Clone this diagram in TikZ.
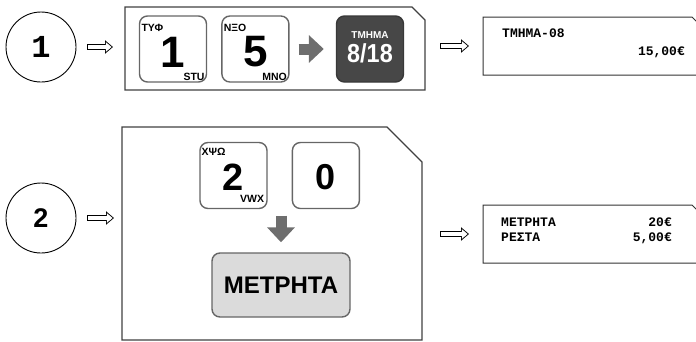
\documentclass[tikz,border=0pt]{standalone}
\usepackage{fontspec}
\setmainfont{Liberation Sans}
\newfontfamily\lcdfont{Liberation Mono}
\usetikzlibrary{positioning,arrows.meta}
\tikzstyle{keybox}    = [draw=black!60, line width=1.4pt, rounded corners=8pt, minimum width=67pt, minimum height=66pt, inner sep=0pt, font=\bfseries]
\tikzstyle{frameline} = [draw=black!75, line width=1.1pt, line join=miter]

\begin{document}
\begin{tikzpicture}[x=1pt,y=-1pt,
			frame/.style={rectangle, inner sep=0pt, outer sep=0pt},
			lcdbox/.style={frame, minimum width=217pt, minimum height=58pt},
			stepnum/.style={circle, draw, line width=0.9pt, minimum size=70pt, inner sep=0pt},
			keytop/.style={inner sep=0pt, font=\bfseries\fontsize{10.5}{10.5}\selectfont},
			bigdigit/.style={inner sep=0pt, font=\bfseries\fontsize{44}{44}\selectfont},
			lcd/.style={inner sep=0pt, font=\lcdfont\bfseries\fontsize{13}{13}\selectfont},
			implies/.style 2 args={draw=white, line width=4.2pt, -{Triangle[length=5.7pt,width=9.2pt]},
					shorten <=#1+0.9pt, shorten >=#2+1.4pt,
					preaction={draw=black, line width=6pt, -{Triangle[length=8pt,width=13pt]}, shorten <=#1, shorten >=#2}},
			greyarrow/.style={draw=black!57, line width=11pt, -{Triangle[length=15pt,width=27pt]}}]

		\clip (0,0) rectangle (696,341);

		% step 1
		\node[stepnum] (s1) at (41,47) {\lcdfont\bfseries\fontsize{32}{32}\selectfont 1};
		\node[frame, minimum width=300pt, minimum height=83pt] (box1) at (275,48.5) {};
		\draw[frameline] (box1.north west) -- ([xshift=-13pt]box1.north east) -- ([yshift=-13pt]box1.north east)
			-- (box1.south east) -- (box1.south west) -- cycle;
		\node[keybox] (k1) at (173,49) {};
		\node[keybox, right=14pt of k1] (k5) {};
		\node[keybox, fill=black!72, draw=black!78] (tm) at (370,49) {};
		\node[bigdigit, yshift=-3pt] (d1) at (k1) {1};
		\node[bigdigit, yshift=-3pt] (d5) at (k5) {5};
		\node[keytop, anchor=north west] (t1) at ([shift={(2.5pt,-9pt)}]k1.north west) {ΤΥΦ};
		\node[keytop, anchor=south east] (b1) at ([shift={(-2.5pt,1.5pt)}]k1.south east) {STU};
		\node[keytop, anchor=north west] (t5) at ([shift={(2.5pt,-9pt)}]k5.north west) {ΝΞΟ};
		\node[keytop, anchor=south east] (b5) at ([shift={(-2.5pt,1.5pt)}]k5.south east) {ΜΝΟ};
		\node[inner sep=0pt, text=white, font=\bfseries\fontsize{10}{10}\selectfont] (tmtop) at (370,35.5) {ΤΜΗΜΑ};
		\node[inner sep=0pt, text=white, font=\bfseries\fontsize{26}{26}\selectfont] (tmnum) at (370,53) {\scalebox{0.9}[1]{8/18}};

		\node[lcdbox] (disp1) at (591.5,46) {};
		\draw[frameline, draw=black!80, line width=1pt] (disp1.north west) -- ([xshift=-8pt]disp1.north east)
			-- ([yshift=-8pt]disp1.north east) -- (disp1.south east) -- (disp1.south west) -- cycle;
		\node[lcd, anchor=base west] (l1a) at (502,37) {ΤΜΗΜΑ-08};
		\node[lcd, anchor=base east] (l1b) at (685,55) {15,00€};

		\draw[implies={11pt}{12pt}] (s1) -- (s1 -| box1.west);
		\draw[greyarrow, shorten <=9pt, shorten >=12pt] (k5) -- (tm);
		\draw[implies={15pt}{14pt}] (box1.east |- disp1) -- (disp1);

		% step 2
		\node[stepnum] (s2) at (41,218) {\bfseries\fontsize{27}{27}\selectfont 2};
		\node[frame, minimum width=300pt, minimum height=213pt] (box2) at (272,233.5) {};
		\draw[frameline] (box2.north west) -- ([xshift=-35pt]box2.north east) -- ([yshift=-35pt]box2.north east)
			-- (box2.south east) -- (box2.south west) -- cycle;
		\node[keybox] (k2) at (233.5,175.5) {};
		\node[keybox, right=24pt of k2] (k0) {};
		\node[bigdigit, font=\bfseries\fontsize{38}{38}\selectfont, yshift=-1.5pt] (d2) at (k2) {2};
		\node[bigdigit, font=\bfseries\fontsize{36}{36}\selectfont, yshift=-1.5pt] (d0) at (k0) {0};
		\node[keytop, anchor=north west] (t2) at ([shift={(2pt,-6.5pt)}]k2.north west) {ΧΨΩ};
		\node[keytop, anchor=south east] (b2) at ([shift={(-3.5pt,6.5pt)}]k2.south east) {VWX};
		\node[keybox, fill=black!14, minimum width=138pt, minimum height=64pt, font=\bfseries\fontsize{24}{24}\selectfont] (metr) at (281,285) {ΜΕΤΡΗΤΑ};

		\node[lcdbox] (disp2) at (591.5,234) {};
		\draw[frameline, draw=black!80, line width=1pt] (disp2.north west) -- ([xshift=-8pt]disp2.north east)
			-- ([yshift=-8pt]disp2.north east) -- (disp2.south east) -- (disp2.south west) -- cycle;
		\node[lcd, anchor=base west] (l2a) at (501,226) {ΜΕΤΡΗΤΑ};
		\node[lcd, anchor=base east] (l2b) at (672,226) {20€};
		\node[lcd, anchor=base west] (l2c) at (501,241) {ΡΕΣΤΑ};
		\node[lcd, anchor=base east] (l2d) at (672,241) {5,00€};

		\draw[implies={11pt}{8pt}] (s2) -- (s2 -| box2.west);
		\draw[greyarrow, shorten <=6.5pt, shorten >=10pt] (metr.north |- k2.south) -- (metr.north);
		\draw[implies={18pt}{14pt}] (box2.east |- disp2) -- (disp2);
	\end{tikzpicture}
\end{document}
